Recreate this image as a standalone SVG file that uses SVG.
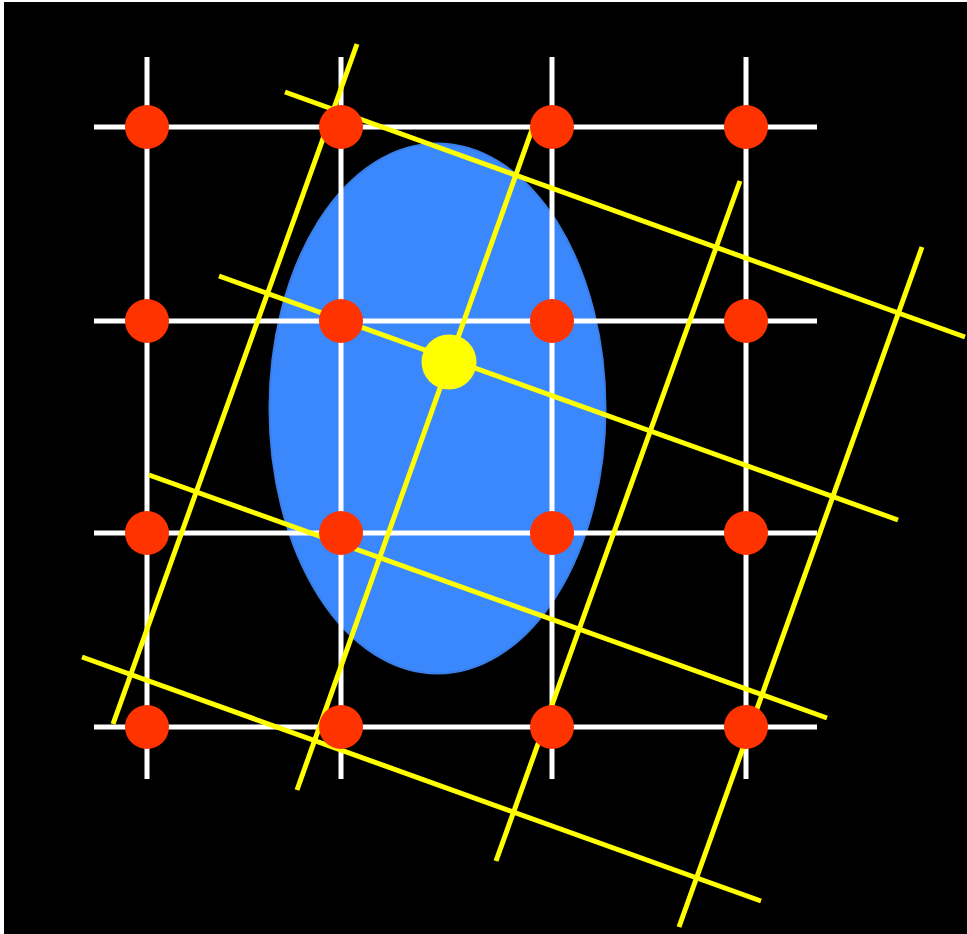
<svg xmlns="http://www.w3.org/2000/svg" width="967" height="934" viewBox="0 0 967 934">
<style>
.grid{stroke:#ffffff;stroke-width:5;fill:none}
.rot{stroke:#ffff00;stroke-width:5;fill:none}
.pt{fill:#ff3300}
</style>
<rect x="0" y="0" width="967" height="934" fill="#ffffff"/>
<rect x="4" y="2" width="963" height="932" fill="#000000"/>
<g id="ellipse">
<ellipse cx="437.5" cy="408.5" rx="168" ry="265" fill="#3b88fc" stroke="#3a7ee8" stroke-width="2"/>
</g>
<g id="grid">
<line class="grid" x1="147" y1="57" x2="147" y2="779"/>
<line class="grid" x1="341" y1="57" x2="341" y2="779"/>
<line class="grid" x1="552" y1="57" x2="552" y2="779"/>
<line class="grid" x1="746" y1="57" x2="746" y2="779"/>
<line class="grid" x1="94" y1="127" x2="817" y2="127"/>
<line class="grid" x1="94" y1="321" x2="817" y2="321"/>
<line class="grid" x1="94" y1="533" x2="817" y2="533"/>
<line class="grid" x1="94" y1="727" x2="817" y2="727"/>
</g>
<g id="rotated-grid">
<line class="rot" x1="113" y1="724" x2="357" y2="44"/>
<line class="rot" x1="297" y1="790" x2="534" y2="124"/>
<line class="rot" x1="496" y1="861" x2="740" y2="181"/>
<line class="rot" x1="679" y1="927" x2="922" y2="247"/>
<line class="rot" x1="285" y1="92" x2="965" y2="337"/>
<line class="rot" x1="219" y1="276" x2="898" y2="520"/>
<line class="rot" x1="149" y1="475" x2="827" y2="718"/>
<line class="rot" x1="82" y1="657" x2="761" y2="901"/>
</g>
<g id="points">
<circle class="pt" cx="147" cy="127" r="22"/>
<circle class="pt" cx="341" cy="127" r="22"/>
<circle class="pt" cx="552" cy="127" r="22"/>
<circle class="pt" cx="746" cy="127" r="22"/>
<circle class="pt" cx="147" cy="321" r="22"/>
<circle class="pt" cx="341" cy="321" r="22"/>
<circle class="pt" cx="552" cy="321" r="22"/>
<circle class="pt" cx="746" cy="321" r="22"/>
<circle class="pt" cx="147" cy="533" r="22"/>
<circle class="pt" cx="341" cy="533" r="22"/>
<circle class="pt" cx="552" cy="533" r="22"/>
<circle class="pt" cx="746" cy="533" r="22"/>
<circle class="pt" cx="147" cy="727" r="22"/>
<circle class="pt" cx="341" cy="727" r="22"/>
<circle class="pt" cx="552" cy="727" r="22"/>
<circle class="pt" cx="746" cy="727" r="22"/>
</g>
<g id="center">
<circle cx="449" cy="362" r="27.5" fill="#ffff00"/>
</g>
</svg>
